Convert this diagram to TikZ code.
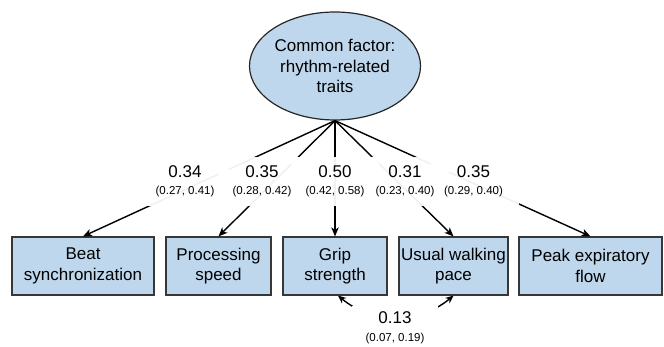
\documentclass[tikz,border=0pt]{standalone}
\usepackage{fontspec}
\setmainfont{Liberation Sans}
\usetikzlibrary{arrows.meta,shapes.geometric}
\definecolor{boxblue}{RGB}{190,215,237}
\definecolor{edgegray}{RGB}{55,55,55}
\newcommand\cifont{\fontsize{11.5}{17.5}\selectfont}
\begin{document}
\begin{tikzpicture}[x=1pt,y=-1pt,
  every node/.style={font=\fontsize{17}{20.4}\selectfont, text=black},
  box/.style={draw=edgegray, line width=1.2pt, fill=boxblue,
    minimum height=58pt, inner sep=0pt, align=center},
  factor/.style={ellipse, draw=black!85, line width=1.2pt, fill=boxblue,
    minimum width=168pt, minimum height=108pt, inner sep=0pt, align=center},
  labelpad/.style={fill=white, fill opacity=0.94, inner sep=0pt,
    minimum width=88pt, minimum height=49pt},
  loadlabel/.style={inner sep=0pt, align=center,
    font=\fontsize{17}{17.5}\selectfont},
  link/.style={line width=1.4pt, -{Stealth[length=9pt,width=7.5pt,inset=2.5pt]}},
  covlink/.style={line width=1.4pt, {Stealth[length=8pt,width=7pt,inset=2.5pt]}-{Stealth[length=8pt,width=7pt,inset=2.5pt]}}
]
\useasboundingbox (0,0) rectangle (664,347);

% latent factor
\node[factor] (fac) at (335,66) {Common factor:\\rhythm-related\\traits};

% observed indicators
\node[box, minimum width=142pt] (beat) at (83,266) {Beat\\synchronization};
\node[box, minimum width=105pt] (proc) at (218.5,266) {Processing\\speed};
\node[box, minimum width=104pt] (grip) at (335,266) {Grip\\strength};
\node[box, minimum width=109pt] (walk) at (453.5,266) {Usual walking\\pace};
\node[box, minimum width=143pt] (peak) at (590.5,266) {Peak expiratory\\flow};

% factor loadings
\draw[link] (fac.south) -- (beat.north);
\draw[link] (fac.south) -- (proc.north);
\draw[link] (fac.south) -- (grip.north);
\draw[link] (fac.south) -- (walk.north);
\draw[link] (fac.south) -- (peak.north);

% residual covariance between grip strength and walking pace
\draw[covlink] ([xshift=3pt]grip.south) .. controls +(35,29) and +(-35,29) .. (walk.south);

% label backgrounds first, so no pad hides a neighbouring label's text
\node[labelpad] (p1) at (185,181.5) {};
\node[labelpad] (p2) at (262,181.5) {};
\node[labelpad] (p3) at (335,181.5) {};
\node[labelpad] (p4) at (405,181.5) {};
\node[labelpad] (p5) at (475,181.5) {};
\node[labelpad, fill opacity=1, minimum width=86pt, minimum height=44pt] (pc) at (395,328) {};

% loading labels
\node[loadlabel] (l1) at (p1) {0.34\\{\cifont (0.27, 0.41)}};
\node[loadlabel] (l2) at (p2) {0.35\\{\cifont (0.28, 0.42)}};
\node[loadlabel] (l3) at (p3) {0.50\\{\cifont (0.42, 0.58)}};
\node[loadlabel] (l4) at (p4) {0.31\\{\cifont (0.23, 0.40)}};
\node[loadlabel] (l5) at ([xshift=-1.5pt]p5.center) {0.35\\{\cifont (0.29, 0.40)}};

% covariance label
\node[loadlabel] (lc) at (pc) {0.13\\{\cifont (0.07, 0.19)}};
\end{tikzpicture}
\end{document}
